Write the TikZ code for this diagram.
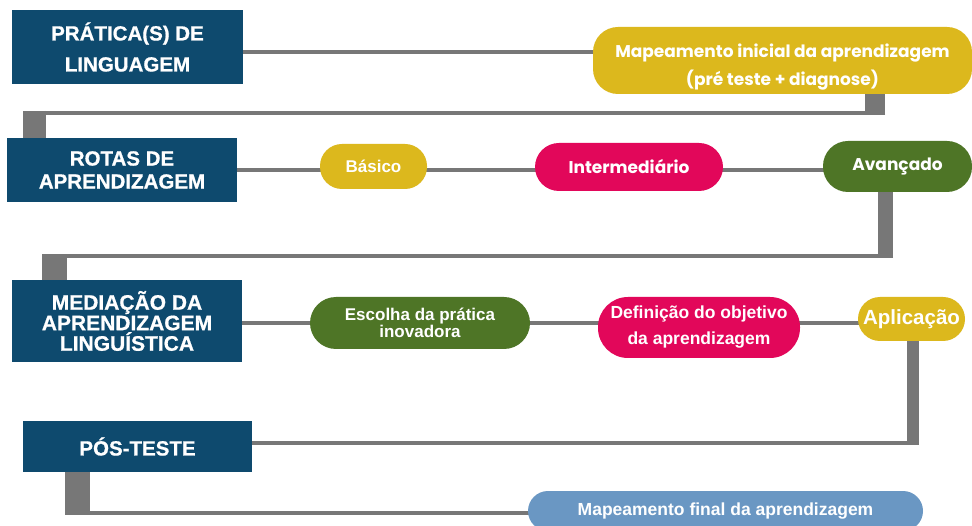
\documentclass[tikz,border=0pt]{standalone}
\usepackage{fontspec}
\setmainfont{Liberation Sans}
\newfontfamily\pop{Poppins}
\newfontfamily\heavy[FakeBold=0.8]{Liberation Sans Bold}
\usetikzlibrary{backgrounds}
\definecolor{navy}{HTML}{0E4A6E}
\definecolor{mustard}{HTML}{DCB81D}
\definecolor{rasp}{HTML}{E2075A}
\definecolor{leaf}{HTML}{4E7526}
\definecolor{sky}{HTML}{6A97C3}
\definecolor{wire}{HTML}{777777}
\tikzset{
  box/.style={fill=navy, text=white, align=center, inner sep=0pt},
  pill/.style={fill=#1, text=white, align=center, inner sep=0pt},
  conn/.style={draw=wire, line width=4pt},
  post/.style={draw=wire, line width=#1}
}
\begin{document}
\begin{tikzpicture}[x=1pt,y=-1pt]
\useasboundingbox (0,0) rectangle (972,526);
% left boxes
\node[box, minimum width=231pt, minimum height=74pt, font=\heavy\fontsize{20.5}{31}\selectfont] (b1) at (127.5,47) {PRÁTICA(S) DE\\LINGUAGEM};
\node[box, minimum width=230pt, minimum height=64pt, font=\heavy\fontsize{20.5}{23}\selectfont] (b2) at (122,170) {ROTAS DE\\APRENDIZAGEM};
\node[box, minimum width=230pt, minimum height=82pt, font=\heavy\fontsize{21}{20.5}\selectfont] (b3) at (127,321) {MEDIAÇÃO DA\\APRENDIZAGEM\\LINGUÍSTICA};
\node[box, minimum width=229pt, minimum height=51pt, font=\heavy\fontsize{20.5}{23}\selectfont] (b4) at (137.5,446.5) {PÓS-TESTE};
% pills
\node[pill=mustard, rounded corners=25pt, minimum width=379pt, minimum height=67pt, font=\pop\bfseries\fontsize{17}{28}\selectfont] (p1) at (782.5,60.5) {\rule{0pt}{26pt}Mapeamento inicial da aprendizagem\\(pré teste + diagnose)};
\node[pill=mustard, rounded corners=22pt, minimum width=107pt, minimum height=45pt, font=\bfseries\fontsize{17}{20}\selectfont] (bas) at (373.5,166.5) {Básico};
\node[pill=rasp, rounded corners=24pt, minimum width=188pt, minimum height=48pt, font=\pop\bfseries\fontsize{17}{20}\selectfont] (int) at (629,167) {Intermediário};
\node[pill=leaf, rounded corners=25pt, minimum width=149pt, minimum height=51pt, font=\pop\bfseries\fontsize{17}{20}\selectfont] (av) at (897.5,166.5) {Avançado};
\node[pill=leaf, rounded corners=26pt, minimum width=220pt, minimum height=52pt, font=\bfseries\fontsize{17}{17}\selectfont] (esc) at (420,323) {Escolha da prática\\inovadora};
\node[pill=rasp, rounded corners=30pt, minimum width=202pt, minimum height=61pt, font=\bfseries\fontsize{17.5}{26}\selectfont] (def) at (699,327.5) {Definição do objetivo\\da aprendizagem};
\node[pill=mustard, rounded corners=22pt, minimum width=107pt, minimum height=44pt, font=\bfseries\fontsize{20.5}{23}\selectfont] (ap) at (911.5,319) {Aplicação};
\node[pill=sky, rounded corners=20pt, minimum width=395pt, minimum height=40pt, font=\bfseries\fontsize{17.5}{20}\selectfont] (fin) at (725.5,511) {Mapeamento final da aprendizagem};
% elbow points
\coordinate (k1) at (875,113);
\coordinate (k1b) at (34.5,113);
\coordinate (k2) at (885.5,256.5);
\coordinate (k2b) at (54.5,256.5);
\coordinate (k3) at (912.5,443);
\coordinate (k4) at (77.5,513);
\begin{scope}[on background layer]
\fill[white] (0,0) rectangle (972,526);
% row lines
\draw[conn] ([yshift=-5pt]b1.east) -- ([yshift=-5pt]b1.east -| p1.center);
\draw[conn] (b2.east) -- (b2.east -| av.center);
\draw[conn] ([yshift=-2pt]b3.east) -- ([yshift=-2pt]b3.east -| ap.center);
% connector 1
\draw[post=20pt] (p1.south -| k1) -- ([yshift=-2pt]k1);
\draw[conn] ([xshift=10pt]k1) -- ([xshift=-11.5pt]k1b);
\draw[post=23pt] ([yshift=2pt]k1b) -- (k1b |- b2.north);
% connector 2
\draw[post=15pt] (av.south -| k2) -- ([yshift=-2pt]k2);
\draw[conn] ([xshift=7.5pt]k2) -- ([xshift=-12.5pt]k2b);
\draw[post=25pt] ([yshift=2pt]k2b) -- (k2b |- b3.north);
% connector 3
\draw[post=12pt] (ap.south -| k3) -- ([yshift=-2pt]k3);
\draw[conn] ([xshift=6pt]k3) -- (k3 -| b4.east);
% connector 4
\draw[post=25pt] (b4.south -| k4) -- ([yshift=-2pt]k4);
\draw[conn] ([xshift=-12.5pt]k4) -- (k4 -| fin.center);
\end{scope}
\end{tikzpicture}
\end{document}
